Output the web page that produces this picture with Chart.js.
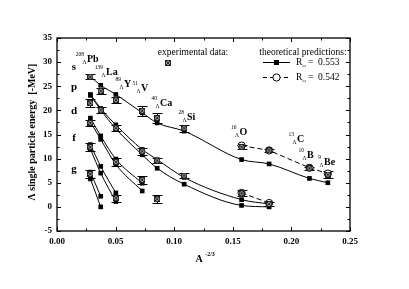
<!DOCTYPE html>
<html>
<head>
<meta charset="utf-8">
<script src="https://cdn.jsdelivr.net/npm/chart.js@4.4.0/dist/chart.umd.min.js"></script>
<style>
  html, body { margin: 0; padding: 0; background: #fff; }
  #wrap { width: 409px; height: 289px; }
</style>
</head>
<body>
<div id="wrap"><canvas id="hyperChart" width="409" height="289"></canvas></div>
<script>
// hypernuclei, A^-2/3 positions
const nuclei = ['Pb', 'La', 'Y', 'V', 'Ca', 'Si', 'O', 'C', 'B', 'Be'];
const massNumbers = [208, 139, 89, 51, 40, 28, 16, 13, 10, 9];
const xValues = [0.0285, 0.0373, 0.0502, 0.0727, 0.0855, 0.1085, 0.1575, 0.1810, 0.2154, 0.2311];

// theory, R = 0.553 (solid)
const sTheory = [27.0, 25.2, 23.3, 19.5, 17.4, 15.7, 9.8, 8.9, 5.9, 5.0];
const p1Theory = [23.3, 20.4, 17.0, 11.9, 9.8, 6.1, 1.5, 0.6];
const p2Theory = [23.1, 20.1, 16.2, 10.8, 8.0, 4.7, 0.3, 0.0];
const d1Theory = [18.4, 14.7, 9.9, 4.9];
const d2Theory = [17.6, 14.0, 8.8, 3.3];
const f1Theory = [12.9, 8.4, 2.9];
const f2Theory = [12.0, 7.0, 1.1];
const g1Theory = [7.2, 2.2];
const g2Theory = [5.8, 0.0];

// theory, R = 0.542 (dashed), only light nuclei
const sDashed = [null, null, null, null, null, null, 12.7, 11.7, 8.1, 6.9];
const pDashed = [null, null, null, null, null, null, 2.9, 0.8];

// experimental data and errors
const sExp = [27.0, 24.0, 22.1, 19.9, 18.4, 16.3, 12.4, 11.7, 8.0, 6.7];
const sErr = [0.6, 0.6, 0.6, 1.0, 1.0, 0.7, 0.4, 0.3, 0.3, 0.7];
const pExp = [21.5, 20.0, 16.3, 11.5, 9.6, 6.5, 2.8, 0.6];
const pErr = [0.8, 0.6, 0.6, 0.8, 0.6, 0.5, 0.6, 0.4];
const dExp = [17.4, null, 9.3, 5.6, 1.6];
const dErr = [0.7, null, 0.8, 0.8, 0.8];
const fExp = [12.4, null, 1.8];
const fErr = [0.8, null, 0.7];
const gExp = [6.8];
const gErr = [0.8];

const yTicks = [-5, 0, 5, 10, 15, 20, 25, 30, 35];
const xTicks = [0, 0.05, 0.10, 0.15, 0.20, 0.25];

// label anchors (data units): element symbol left edge / middle
const labelX = [0.0256, 0.0418, 0.0572, 0.0717, 0.0879, 0.1109, 0.1557, 0.2048, 0.2133, 0.2278];
const labelY = [30.5, 27.8, 25.4, 24.5, 21.4, 18.6, 15.4, 13.9, 10.6, 9.2];
const shellLetters = ['s', 'p', 'd', 'f', 'g'];
const shellY = [28.9, 24.9, 19.8, 14.3, 7.9];
const shellX = 0.0145;

const SERIF = '"Liberation Serif", "DejaVu Serif", serif';

const toPoints = (ys) => ys.map((y, i) => (y === null || y === undefined) ? null : { x: xValues[i], y })
    .filter(Boolean);

// hatched square used for the experimental points
const expSymbol = (() => {
    const c = document.createElement('canvas');
    c.width = 6; c.height = 6;
    const g = c.getContext('2d');
    g.fillStyle = '#aaa';
    g.fillRect(0, 0, 6, 6);
    g.strokeStyle = '#222';
    g.lineWidth = 1;
    g.strokeRect(0.5, 0.5, 5, 5);
    g.beginPath();
    g.moveTo(0, 0); g.lineTo(6, 6);
    g.moveTo(6, 0); g.lineTo(0, 6);
    g.stroke();
    return c;
})();

const solid = (ys) => ({
    data: toPoints(ys),
    showLine: true,
    borderColor: '#000',
    borderWidth: 1,
    pointStyle: 'rect',
    pointRadius: 3.3,
    backgroundColor: '#000',
    pointBorderWidth: 0,
    cubicInterpolationMode: 'monotone',
    order: 2
});

const dashed = (ys) => ({
    data: toPoints(ys),
    showLine: true,
    borderColor: '#000',
    borderWidth: 1,
    borderDash: [5, 3],
    pointStyle: 'circle',
    pointRadius: 3.6,
    backgroundColor: '#fff',
    pointBorderColor: '#000',
    pointBorderWidth: 1,
    order: 1
});

const experimental = (ys, errs) => ({
    data: toPoints(ys),
    errors: errs.filter((e, i) => ys[i] !== null && ys[i] !== undefined),
    showLine: false,
    pointStyle: expSymbol,
    order: 0
});

const datasets = [
    solid(sTheory), solid(p1Theory), solid(p2Theory), solid(d1Theory), solid(d2Theory),
    solid(f1Theory), solid(f2Theory), solid(g1Theory), solid(g2Theory),
    dashed(sDashed), dashed(pDashed),
    experimental(sExp, sErr), experimental(pExp, pErr), experimental(dExp, dErr),
    experimental(fExp, fErr), experimental(gExp, gErr)
];

const errorBars = {
    id: 'errorBars',
    beforeDatasetsDraw(chart) {
        const { ctx, scales: { x, y } } = chart;
        ctx.save();
        ctx.strokeStyle = '#000';
        ctx.lineWidth = 1;
        chart.data.datasets.forEach((ds) => {
            if (!ds.errors) return;
            ds.data.forEach((pt, i) => {
                const px = Math.round(x.getPixelForValue(pt.x)) + 0.5;
                const top = Math.round(y.getPixelForValue(pt.y + ds.errors[i])) + 0.5;
                const bot = Math.round(y.getPixelForValue(pt.y - ds.errors[i])) + 0.5;
                ctx.beginPath();
                ctx.moveTo(px, top); ctx.lineTo(px, bot);
                ctx.moveTo(px - 5, top); ctx.lineTo(px + 5, top);
                ctx.moveTo(px - 5, bot); ctx.lineTo(px + 5, bot);
                ctx.stroke();
            });
        });
        ctx.restore();
    }
};

const frame = {
    id: 'frame',
    afterDraw(chart) {
        const { ctx, chartArea: a, scales: { x, y } } = chart;
        ctx.save();
        ctx.strokeStyle = '#000';
        ctx.lineWidth = 1.3;
        ctx.strokeRect(a.left, a.top, a.right - a.left, a.bottom - a.top);
        ctx.lineWidth = 1;
        ctx.beginPath();
        for (let v = 0; v <= 0.2501; v += 0.025) {
            const px = Math.round(x.getPixelForValue(v)) + 0.5;
            const len = Math.abs(v / 0.05 - Math.round(v / 0.05)) < 1e-6 ? 4 : 2.5;
            ctx.moveTo(px, a.bottom); ctx.lineTo(px, a.bottom - len);
            ctx.moveTo(px, a.top); ctx.lineTo(px, a.top + len);
        }
        for (let v = -5; v <= 35; v += 2.5) {
            const py = Math.round(y.getPixelForValue(v)) + 0.5;
            const len = v % 5 === 0 ? 4 : 2.5;
            ctx.moveTo(a.left, py); ctx.lineTo(a.left + len, py);
            ctx.moveTo(a.right, py); ctx.lineTo(a.right - len, py);
        }
        ctx.stroke();

        // axis titles
        ctx.fillStyle = '#000';
        ctx.textAlign = 'center';
        ctx.textBaseline = 'middle';
        ctx.font = 'bold 10px ' + SERIF;
        ctx.fillText('A', 199, 259);
        ctx.font = 'bold 6px ' + SERIF;
        ctx.fillText('-2/3', 210, 254);
        ctx.save();
        ctx.translate(32, 132);
        ctx.rotate(-Math.PI / 2);
        ctx.font = 'bold 10px ' + SERIF;
        ctx.fillText('\u039B single particle energy  [-MeV]', 0, 0);
        ctx.restore();

        // nucleus labels
        nuclei.forEach((name, i) => {
            const lx = x.getPixelForValue(labelX[i]);
            const ly = y.getPixelForValue(labelY[i]);
            ctx.textBaseline = 'middle';
            ctx.textAlign = 'left';
            ctx.font = 'bold 10px ' + SERIF;
            ctx.fillText(name, lx, ly);
            ctx.textAlign = 'right';
            ctx.font = '5.5px ' + SERIF;
            ctx.fillText(String(massNumbers[i]), lx - 3, ly - 5);
            ctx.fillText('\u039B', lx - 0.5, ly + 3);
        });

        // shell letters
        ctx.textAlign = 'center';
        ctx.font = 'bold 11px ' + SERIF;
        shellLetters.forEach((s, i) => {
            ctx.fillText(s, x.getPixelForValue(shellX), y.getPixelForValue(shellY[i]));
        });

        // legend
        ctx.font = '9.5px ' + SERIF;
        ctx.textAlign = 'center';
        ctx.fillText('experimental data:', 193, 52);
        ctx.fillText('theoretical predictions:', 303, 52);
        ctx.drawImage(expSymbol, 165, 60, 6, 6);
        ctx.beginPath();
        ctx.moveTo(263, 62.5); ctx.lineTo(290, 62.5);
        ctx.stroke();
        ctx.fillRect(274, 60, 5, 5);
        ctx.beginPath();
        ctx.setLineDash([4, 3]);
        ctx.moveTo(263, 77.5); ctx.lineTo(290, 77.5);
        ctx.stroke();
        ctx.setLineDash([]);
        ctx.beginPath();
        ctx.arc(276.5, 77.5, 3.6, 0, Math.PI * 2);
        ctx.fillStyle = '#fff';
        ctx.fill();
        ctx.stroke();
        ctx.fillStyle = '#000';
        ctx.textAlign = 'left';
        [['0.553', 62.5], ['0.542', 77.5]].forEach(([val, py]) => {
            ctx.font = '9.5px ' + SERIF;
            ctx.fillText('R', 296, py);
            ctx.font = '5px ' + SERIF;
            ctx.fillText('\u03C9', 302.5, py + 3);
            ctx.font = '9.5px ' + SERIF;
            ctx.fillText('=  ' + val, 308, py);
        });
        ctx.restore();
    }
};

new Chart(document.getElementById('hyperChart'), {
    type: 'scatter',
    data: { datasets },
    options: {
        responsive: false,
        animation: false,
        devicePixelRatio: 1,
        layout: { padding: { top: 38, right: 59, left: 0, bottom: 0 } },
        plugins: { legend: { display: false }, tooltip: { enabled: false } },
        elements: { point: { hoverRadius: 0 } },
        scales: {
            x: {
                type: 'linear',
                min: 0,
                max: 0.25,
                afterFit: (s) => { s.height = 58; },
                afterBuildTicks: (s) => { s.ticks = xTicks.map((v) => ({ value: v })); },
                grid: { display: false, drawTicks: false },
                border: { display: false },
                ticks: {
                    padding: 5,
                    color: '#000',
                    font: { family: SERIF, size: 9, weight: 'bold' },
                    callback: (v) => Number(v).toFixed(2)
                }
            },
            y: {
                type: 'linear',
                min: -5,
                max: 35,
                afterFit: (s) => { s.width = 57; },
                afterBuildTicks: (s) => { s.ticks = yTicks.map((v) => ({ value: v })); },
                grid: { display: false, drawTicks: false },
                border: { display: false },
                ticks: {
                    padding: 5,
                    color: '#000',
                    font: { family: SERIF, size: 9, weight: 'bold' },
                    callback: (v) => String(v)
                }
            }
        }
    },
    plugins: [errorBars, frame]
});
</script>
</body>
</html>
